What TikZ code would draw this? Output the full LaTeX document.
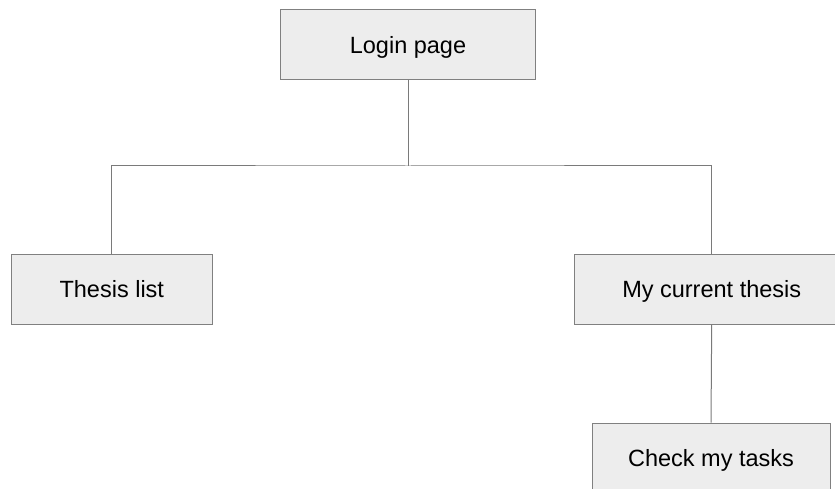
\documentclass[tikz,border=0pt]{standalone}
\usepackage{fontspec}
\setmainfont{Liberation Sans}
\definecolor{boxfill}{HTML}{EDEDED}
\definecolor{boxline}{HTML}{808080}
\definecolor{wire}{HTML}{7A7A7A}
\begin{document}
\begin{tikzpicture}[x=1pt,y=-1pt,
  pagebox/.style={draw=boxline,fill=boxfill,line width=1pt,inner sep=0pt,
    minimum height=70pt,text height=17.4pt,text depth=0pt,
    font=\fontsize{23.5}{27}\selectfont,anchor=center},
  wireline/.style={draw=wire,line width=1pt}]
  \useasboundingbox (0,0) rectangle (835,489);
  \clip (0,0) rectangle (835,489);
  % page boxes
  \node[pagebox,minimum width=255pt] (login) at (408,45) {Login page};
  \node[pagebox,minimum width=201pt] (list) at (111.8,289) {Thesis list};
  \node[pagebox,minimum width=275pt] (current) at (711.7,289) {My current thesis};
  \node[pagebox,minimum width=238pt] (tasks) at (711,458) {Check my tasks};
  % tree connectors
  \coordinate (split) at (408,166);
  \draw[wireline] (login.south) -- (split);
  \draw[wireline] (list.north) |- (split) -| (current.north);
  \draw[wireline] (current.south) -- (tasks.north);
\end{tikzpicture}
\end{document}
